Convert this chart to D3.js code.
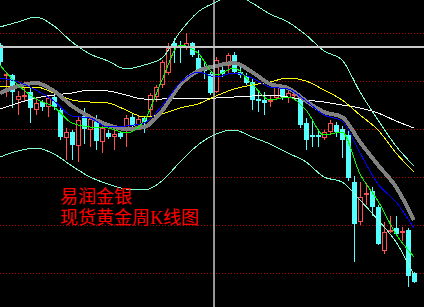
<!DOCTYPE html>
<html>
<head>
<meta charset="utf-8">
<script src="https://cdn.jsdelivr.net/npm/d3@7"></script>
<style>
  html, body { margin: 0; padding: 0; background: #000; overflow: hidden; }
  svg { display: block; }
</style>
</head>
<body>
<div id="chart"></div>
<script>
// weekly candles, one per week (prices)
var opens  = [1610,1548,1550,1500,1506,1516,1480,1496,1486,1506,1480,1424,1436,1408,1468,1440,1460,1416,1434,1426,1434,1444,1466,1450,1464,1480,1506,1530,1554,1614,1610,1606,1614,1584,1564,1552,1516,1560,1568,1590,1556,1546,1536,1502,1500,1496,1504,1524,1504,1508,1506,1454,1430,1430,1424,1436,1450,1442,1430,1336,1256,1312,1318,1286,1198,1238,1244,1234,1240,1154];
var highs  = [1614,1556,1552,1518,1524,1526,1506,1500,1510,1510,1484,1444,1440,1466,1484,1466,1470,1450,1440,1440,1438,1470,1474,1468,1466,1514,1530,1580,1614,1624,1618,1634,1616,1600,1574,1556,1586,1574,1594,1596,1566,1554,1544,1520,1516,1510,1532,1530,1520,1518,1510,1464,1460,1438,1440,1460,1456,1448,1440,1348,1336,1334,1326,1290,1256,1268,1268,1246,1244,1156];
var lows   = [1568,1506,1484,1470,1496,1454,1470,1478,1466,1480,1420,1380,1380,1376,1412,1406,1400,1394,1422,1400,1422,1406,1440,1440,1434,1466,1496,1524,1550,1574,1574,1600,1586,1556,1542,1510,1514,1546,1554,1552,1544,1530,1480,1476,1470,1486,1500,1500,1494,1504,1444,1400,1406,1406,1420,1432,1426,1384,1338,1176,1250,1290,1268,1210,1192,1234,1230,1218,1126,1134];
var closes = [1576,1552,1516,1508,1510,1484,1494,1486,1504,1486,1426,1436,1410,1460,1442,1462,1418,1444,1426,1432,1426,1464,1448,1462,1456,1510,1526,1576,1604,1606,1606,1614,1590,1560,1558,1514,1580,1552,1590,1556,1550,1534,1500,1498,1494,1500,1526,1506,1514,1512,1450,1420,1426,1426,1436,1454,1436,1420,1344,1252,1306,1314,1286,1212,1236,1240,1232,1238,1148,1136];

// indicator lines, read every third week
var lineIdx   = [0,3,6,9,12,15,18,21,24,27,30,33,36,39,42,45,48,51,54,57,60,63,66,69];
var upperBand = [1646,1656,1666,1648,1616,1592,1578,1562,1570,1584,1636,1676,1696,1712,1694,1672,1656,1630,1598,1580,1516,1460,1408,1368];
var lowerBand = [1386,1398,1404,1392,1368,1346,1332,1322,1320,1338,1376,1410,1432,1440,1426,1412,1394,1376,1346,1336,1300,1260,1216,1150];
var midLine   = [1482,1494,1504,1510,1514,1520,1518,1510,1502,1502,1504,1504,1504,1506,1508,1510,1506,1500,1496,1490,1484,1474,1458,1444];
var maYellow  = [1528,1526,1526,1514,1500,1496,1494,1480,1466,1472,1484,1492,1508,1522,1530,1536,1544,1538,1520,1500,1470,1440,1394,1356];
var maGray    = [1514,1528,1534,1518,1488,1466,1450,1442,1446,1478,1530,1558,1568,1574,1556,1532,1524,1498,1476,1466,1416,1370,1326,1260];
var maBlue    = [1544,1536,1520,1498,1468,1464,1446,1448,1454,1488,1534,1556,1546,1554,1544,1526,1522,1498,1470,1458,1394,1332,1296,1244];
var maGreen   = [1570,1530,1502,1486,1454,1446,1444,1434,1458,1540,1610,1594,1550,1564,1532,1500,1506,1480,1430,1436,1352,1298,1232,1186];

var gridLevels = [1634, 1538, 1442, 1346, 1250, 1154];
var crossIndex = 35.67;
var crossPrice = 1606;
var titleLines = ["易润金银", "现货黄金周K线图"];

var width = 424, height = 307;

var svg = d3.select("#chart").append("svg")
    .attr("width", width)
    .attr("height", height)
    .style("background", "#000");

var x = d3.scaleLinear().domain([0, 69]).range([0, 414]);
var y = d3.scaleLinear().domain([1086, 1700]).range([height, 0]);

// dotted price levels
svg.selectAll(".grid")
    .data(gridLevels).enter().append("line")
    .attr("x1", 0).attr("x2", width)
    .attr("y1", function(d) { return Math.round(y(d)) + 0.5; })
    .attr("y2", function(d) { return Math.round(y(d)) + 0.5; })
    .attr("stroke", "#b00000")
    .attr("stroke-dasharray", "1,2");

// candles
var candles = opens.map(function(o, i) {
    return {i: i, o: o, h: highs[i], l: lows[i], c: closes[i]};
});
var up = function(d) { return d.c > d.o; };

var cg = svg.append("g");
var candle = cg.selectAll(".candle")
    .data(candles).enter().append("g")
    .attr("shape-rendering", "crispEdges");

candle.append("line")
    .attr("x1", function(d) { return Math.round(x(d.i)) + 0.5; })
    .attr("x2", function(d) { return Math.round(x(d.i)) + 0.5; })
    .attr("y1", function(d) { return Math.round(y(d.h)); })
    .attr("y2", function(d) { return Math.round(y(d.l)); })
    .attr("stroke", function(d) { return up(d) ? "#ff5050" : "#54ffff"; });

candle.append("rect")
    .attr("x", function(d) { return up(d) ? Math.round(x(d.i)) - 1.5 : Math.round(x(d.i)) - 2; })
    .attr("y", function(d) {
        var t = Math.round(y(Math.max(d.o, d.c)));
        return up(d) ? t + 0.5 : t;
    })
    .attr("width", function(d) { return up(d) ? 4 : 5; })
    .attr("height", function(d) {
        var h = Math.round(y(Math.min(d.o, d.c))) - Math.round(y(Math.max(d.o, d.c)));
        return up(d) ? Math.max(h - 1, 1) : Math.max(h, 1);
    })
    .attr("fill", function(d) { return up(d) ? "#000" : "#54ffff"; })
    .attr("stroke", function(d) { return up(d) ? "#ff5050" : "none"; });

// indicator lines
var line = d3.line()
    .x(function(d, k) { return x(lineIdx[k]); })
    .y(function(d) { return y(d); })
    .curve(d3.curveMonotoneX);

var series = [
    {v: upperBand, color: "#80ffd0", w: 1},
    {v: lowerBand, color: "#80ffd0", w: 1},
    {v: midLine,   color: "#ffffff", w: 1},
    {v: maYellow,  color: "#ffff00", w: 1},
    {v: maGray,    color: "#808080", w: 4},
    {v: maBlue,    color: "#0000ff", w: 1},
    {v: maGreen,   color: "#00ff00", w: 1}
];

svg.selectAll(".ind")
    .data(series).enter().append("path")
    .attr("d", function(d) { return line(d.v); })
    .attr("fill", "none")
    .attr("stroke", function(d) { return d.color; })
    .attr("stroke-width", function(d) { return d.w; })
    .attr("shape-rendering", "crispEdges");

// crosshair
svg.append("line")
    .attr("x1", 0).attr("x2", width)
    .attr("y1", y(crossPrice)).attr("y2", y(crossPrice))
    .attr("stroke", "#c8c8c8").attr("stroke-width", 2);
svg.append("line")
    .attr("x1", x(crossIndex)).attr("x2", x(crossIndex))
    .attr("y1", 0).attr("y2", height)
    .attr("stroke", "#c8c8c8").attr("stroke-width", 1.5);

// title
svg.selectAll(".title")
    .data(titleLines).enter().append("text")
    .attr("x", 60)
    .attr("y", function(d, k) { return 203 + k * 21; })
    .attr("fill", "#ff0000")
    .style("font-family", "'Liberation Serif', 'Noto Sans CJK SC', serif")
    .style("font-size", "18px")
    .text(function(d) { return d; });
</script>
</body>
</html>
